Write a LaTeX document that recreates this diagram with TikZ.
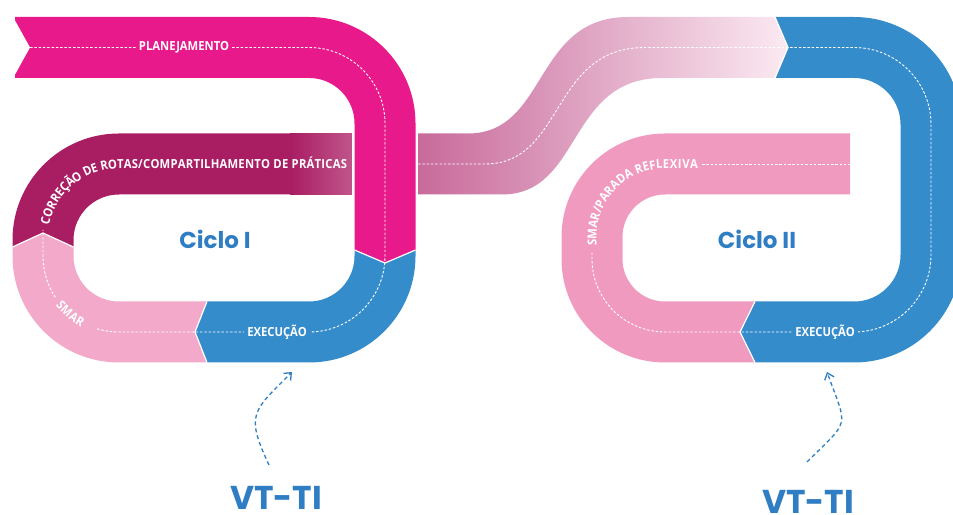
\documentclass[tikz,border=0pt]{standalone}
\usepackage{fontspec}
\usetikzlibrary{decorations.text,arrows.meta}

\newfontfamily\ciclofont{Poppins}
\newfontfamily\trilhafont{Open Sans}[FakeStretch=0.9]

\definecolor{planej}{HTML}{E8198B}
\definecolor{execu}{HTML}{358CCB}
\definecolor{smarI}{HTML}{F3AACA}
\definecolor{smarII}{HTML}{F09AC0}
\definecolor{correc}{HTML}{A91D63}
\definecolor{correcFim}{HTML}{C0558B}
\definecolor{ligaA}{HTML}{C86A9B}
\definecolor{ligaB}{HTML}{FBEAF2}
\definecolor{azultexto}{HTML}{2F7DC2}

\begin{document}
\begin{tikzpicture}[x=1pt,y=1pt,
  faixa/.style={line width=61pt},
  trilha/.style={white, line width=0.9pt, dash pattern=on 2.5pt off 1.8pt},
  seta/.style={white, line width=1.2pt},
  rotulo/.style={text=white, font=\trilhafont\bfseries\fontsize{12.5}{12.5}\selectfont, inner xsep=3pt, inner ysep=1pt},
  cicloTxt/.style={text=azultexto, font=\ciclofont\bfseries\fontsize{23}{23}\selectfont},
  vt/.style={text=azultexto, font=\ciclofont\bfseries\fontsize{33}{33}\selectfont, inner sep=0pt, anchor=base},
  volta/.style={azultexto, line width=1.3pt, dash pattern=on 4pt off 3pt, -{Straight Barb[length=6pt,width=10pt]}}]

  \def\curva{\trilhafont\bfseries\fontsize{12.5}{12.5}\selectfont}

  \clip (0,0) rectangle (953,514);

  % ciclo I
  \draw[faixa, correc] (43,267) -- (43,274) arc (180:90:76) -- (352,350);
  \shade[left color=correc, right color=correcFim] (290,319.5) rectangle (352,380.5);
  \draw[faixa, smarI] (207,182) -- (119,182) arc (270:180:76) -- (43,267);
  \fill[smarI] (12.5,267) -- (43,281) -- (73.5,267) -- cycle;
  \draw[faixa, execu] (385,264) -- (385,258) arc (0:-90:76) -- (207,182);
  \fill[execu] (207,212.5) -- (195,182) -- (207,151.5) -- cycle;
  \draw[faixa, white, line width=66pt] (15,466.5) -- (309,466.5) arc (90:0:76) -- (385,264);
  \draw[faixa, planej] (15,466.5) -- (309,466.5) arc (90:0:76) -- (385,264);
  \fill[planej] (354.5,264) -- (385,251) -- (415.5,264) -- cycle;
  \fill[white] (12,499) -- (30,466.5) -- (12,434) -- cycle;

  % ciclo II
  \draw[faixa, smarII] (850,350) -- (665,350) arc (90:180:73) -- (592,255) arc (180:270:73) -- (755,182);
  \draw[faixa, execu] (775,466.5) -- (854,466.5) arc (90:0:77) -- (931,259) arc (0:-90:77) -- (755,182);
  \fill[execu] (755,212.5) -- (740,182) -- (755,151.5) -- cycle;

  % ligacao
  \shade[left color=ligaA, right color=ligaB] (418,380.5) -- (468,380.5)
    .. controls (548,380.5) and (533,497) .. (628,497) -- (775,497) -- (788,466.5)
    -- (775,436) -- (662,436) .. controls (567,436) and (582,319.5) .. (502,319.5)
    -- (418,319.5) -- cycle;

  % juncoes
  \draw[seta] (354.5,264) -- (385,251) -- (415.5,264);
  \draw[seta] (207,212.5) -- (195,182) -- (207,151.5);
  \draw[seta] (12.5,267) -- (43,281) -- (73.5,267);
  \draw[seta] (755,212.5) -- (740,182) -- (755,151.5);
  \draw[seta] (775,497) -- (788,466.5) -- (775,436);

  % trilhas
  \draw[trilha] (30,466.5) -- (309,466.5) arc (90:0:76) -- (385,258) arc (0:-90:76) -- (119,182) arc (270:252:76);
  \draw[trilha] (119,258) ++(213:76) arc (213:180:76) -- (43,284);
  \draw[trilha] (418,350) -- (485,350) .. controls (565,350) and (550,466.5) .. (645,466.5)
    -- (854,466.5) arc (90:0:77) -- (931,259) arc (0:-90:77) -- (665,182) arc (270:180:73) -- (592,262);
  \draw[trilha] (702,350) -- (850,350);

  % rotulos
  \node[rotulo, fill=planej] (planejamento) at (184,466.5) {PLANEJAMENTO};
  \node[rotulo, fill=execu] (execucao1) at (277,182) {EXECUÇÃO};
  \node[rotulo, fill=execu] (execucao2) at (825,182) {EXECUÇÃO};

  \path[decorate, decoration={text along path, text color=white, raise=-4.5pt, text align=fit to path,
    text={|\curva|CORREÇÃO DE ROTAS/COMPARTILHAMENTO DE PRÁTICAS}}]
    (44.7,290.1) arc (167.8:90:76) -- (347,350);
  \path[decorate, decoration={text along path, text color=white, raise=-4.5pt, text align=left,
    text={|\curva|SMAR}}]
    (59.1,211.2) arc (218:252:76);
  \path[decorate, decoration={text along path, text color=white, raise=-4.5pt, text align=fit to path,
    text={|\curva|SMAR/PARADA REFLEXIVA}}]
    (592,268) -- (592,277) arc (180:90:73) -- (698,350);

  \node[cicloTxt] (ciclo1) at (215,275) {Ciclo I};
  \node[cicloTxt] (ciclo2) at (757,275) {Ciclo II};

  \node[vt] (vt1) at (276,5) {VT-TI};
  \node[vt] (vt2) at (808,1) {VT-TI};

  \coordinate (base1) at (269,49);
  \coordinate (alvo1) at (292,142);
  \coordinate (base2) at (807,52);
  \coordinate (alvo2) at (827,142);
  \draw[volta] (base1) to[out=115, in=225, looseness=1.5] (alvo1);
  \draw[volta] (base2) to[out=45, in=-70, looseness=1.7] (alvo2);

\end{tikzpicture}
\end{document}
